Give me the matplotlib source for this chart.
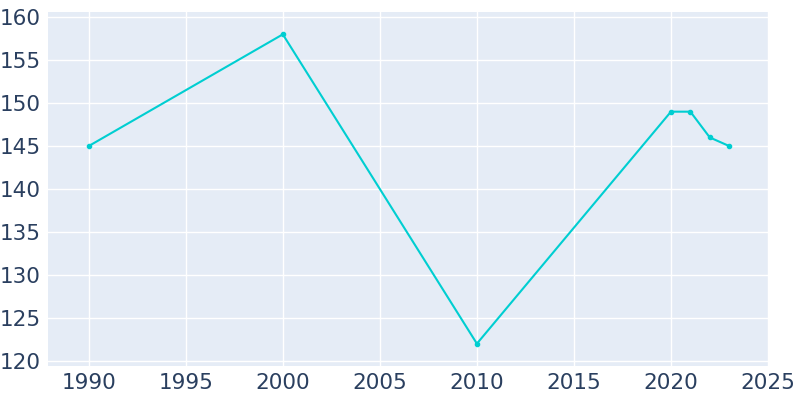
import matplotlib
matplotlib.use("Agg")
from matplotlib import pyplot as plt

years = [1990, 2000, 2010, 2020, 2021, 2022, 2023]
population = [145, 158, 122, 149, 149, 146, 145]

x_ticks = [1990, 1995, 2000, 2005, 2010, 2015, 2020, 2025]
y_ticks = [120, 125, 130, 135, 140, 145, 150, 155, 160]

fig = plt.figure(figsize=(8, 4), dpi=100)
ax = fig.add_axes([0.06, 0.085, 0.90, 0.885])
ax.set_facecolor('#E5ECF6')

ax.plot(years, population, color='#00CED1', linewidth=1.5,
        marker='o', markersize=3, zorder=3)

ax.set_xlim(1987.9, 2025)
ax.set_ylim(119.4, 160.6)
ax.set_xticks(x_ticks)
ax.set_yticks(y_ticks)
ax.grid(True, color='white', linewidth=1)
ax.set_axisbelow(True)

for spine in ax.spines.values():
    spine.set_visible(False)

ax.tick_params(axis='both', length=0, labelsize=15.5, labelcolor='#2a3f5f', pad=5)

fig.savefig('out.png', dpi=100)
